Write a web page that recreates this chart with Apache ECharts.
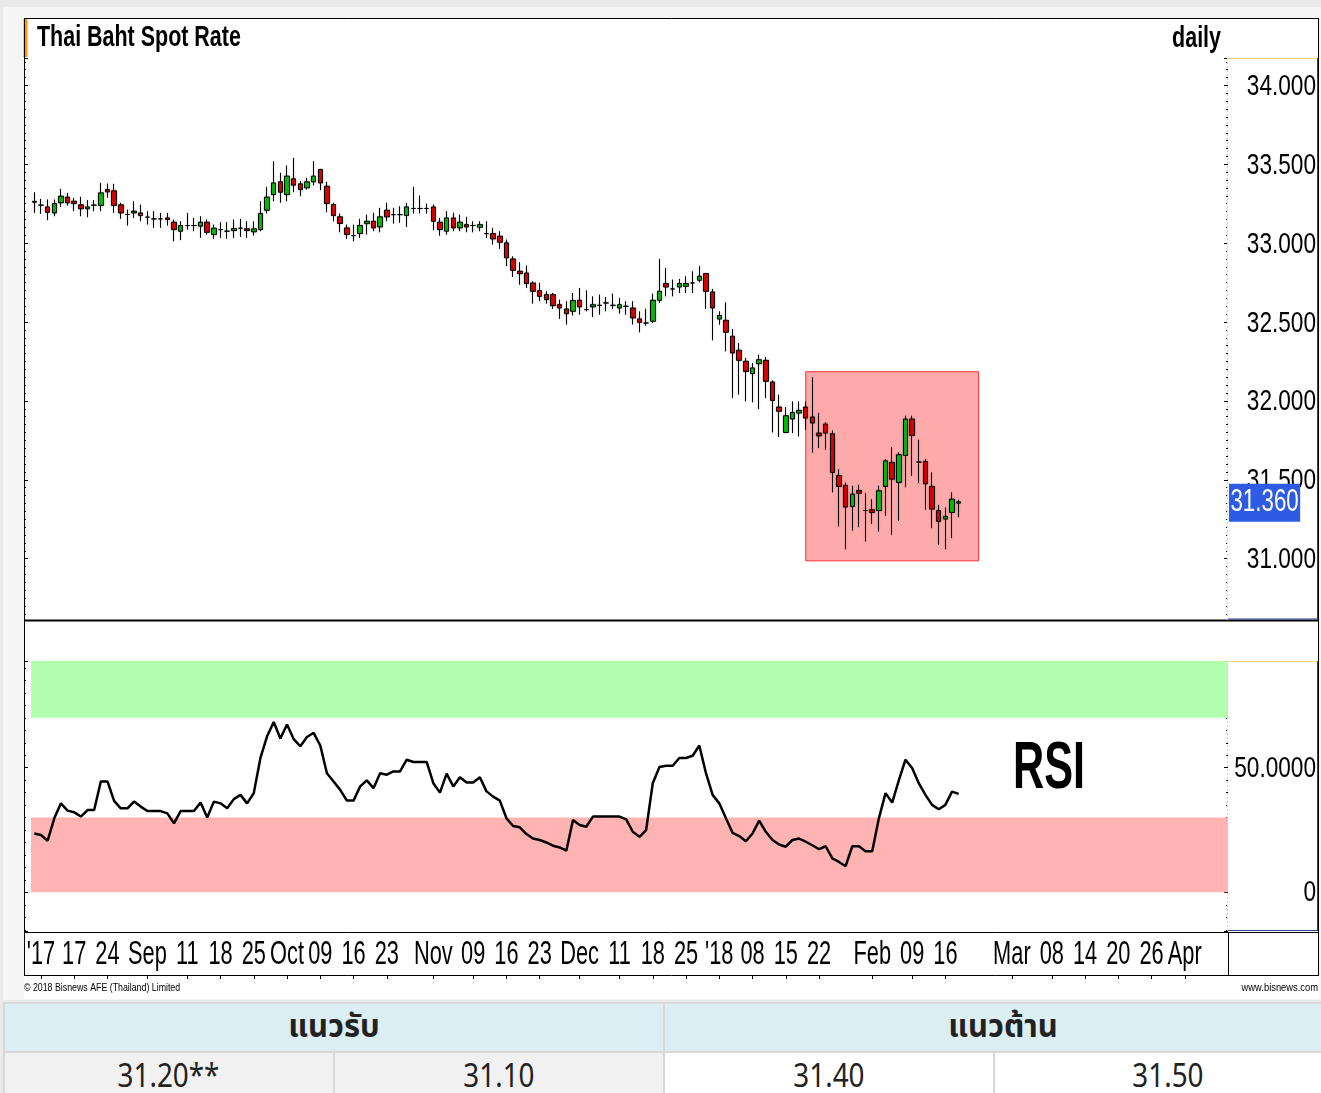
<!DOCTYPE html>
<html><head><meta charset="utf-8">
<script src="https://cdn.jsdelivr.net/npm/echarts@6/dist/echarts.min.js"></script>
<style>
html,body{margin:0;padding:0;width:1321px;height:1093px;overflow:hidden;background:#e9e9e9;}
#panel{position:absolute;left:3px;top:7px;width:1318px;height:993px;background:#f5f5f5;}
#white{position:absolute;left:24px;top:18px;width:1295px;height:981px;background:#fff;}
#chart{position:absolute;left:0;top:0;width:1321px;height:1000px;}
#tbl{position:absolute;left:3px;top:1002px;width:1338px;border-collapse:collapse;table-layout:fixed;font-family:'Noto Sans Thai','Noto Sans Thai UI','Loma','Garuda','Tlwg Typist','Noto Sans',sans-serif;color:#222;}
#tbl td{border:2px solid #d8d8d8;text-align:center;padding:0;overflow:hidden;white-space:nowrap;}
#tbl tr.h td{background:#daeef3;height:45px;font-weight:bold;font-size:31px;}
#tbl tr.r td{height:42px;font-size:32px;}
#tbl tr.r td.g{background:#f1f1f1;}
#tbl tr.r td.w{background:#fff;}
.sq{display:inline-block;transform:scaleX(0.87);}
</style></head>
<body>
<div id="panel"></div><div id="white"></div>
<div id="chart"></div>
<table id="tbl"><colgroup><col style="width:330px"><col style="width:330px"><col style="width:330px"><col style="width:348px"></colgroup><tbody id="tb"></tbody></table>
<script>
const SANS = "'Liberation Sans',Arial,sans-serif";

// ---- data ----
const slotCount = 180;
const categories = Array.from({length: slotCount}, (_, i) => 'd' + i);
const labelSlots = [1, 6, 11, 17, 23, 28, 33, 38, 43, 48, 53, 60, 66, 71, 76, 82, 88, 93, 98, 103, 108, 113, 118, 126, 132, 137, 147, 153, 158, 163, 168, 173];
const labelTexts = ["'17","17","24","Sep","11","18","25","Oct","09","16","23","Nov","09","16","23","Dec","11","18","25","'18","08","15","22","Feb","09","16","Mar","08","14","20","26","Apr"];
const priceTicks = [31.0, 31.5, 32.0, 32.5, 33.0, 33.5, 34.0];
const rsiTicks = [0, 50];
const rsiTickTexts = ['0', '50.0000'];

const opens = [33.265,33.241,33.230,33.192,33.256,33.292,33.266,33.243,33.218,33.241,
33.239,33.340,33.332,33.243,33.182,33.192,33.192,33.165,33.154,33.154,
33.160,33.133,33.076,33.112,33.112,33.108,33.133,33.055,33.086,33.076,
33.080,33.095,33.091,33.072,33.086,33.209,33.308,33.389,33.308,33.408,
33.376,33.351,33.389,33.467,33.361,33.245,33.167,33.097,33.048,33.061,
33.124,33.139,33.103,33.209,33.181,33.181,33.175,33.220,33.220,33.220,
33.230,33.133,33.076,33.160,33.097,33.118,33.112,33.101,33.061,33.061,
33.044,33.002,32.900,32.822,32.811,32.748,32.699,32.674,32.674,32.610,
32.583,32.568,32.638,32.579,32.596,32.606,32.621,32.606,32.589,32.600,
32.589,32.520,32.494,32.505,32.638,32.744,32.710,32.722,32.727,32.748,
32.765,32.807,32.691,32.519,32.511,32.410,32.321,32.251,32.173,32.236,
32.257,32.120,31.961,31.800,31.885,31.923,31.961,31.898,31.796,31.853,
31.792,31.527,31.464,31.331,31.432,31.305,31.310,31.305,31.458,31.610,
31.483,31.654,31.885,31.612,31.616,31.458,31.305,31.251,31.293,31.352];
const closes = [33.260,33.241,33.196,33.251,33.298,33.256,33.251,33.218,33.230,33.241,
33.319,33.325,33.239,33.192,33.182,33.203,33.175,33.165,33.154,33.154,
33.150,33.086,33.112,33.112,33.112,33.133,33.069,33.095,33.086,33.076,
33.093,33.095,33.080,33.091,33.188,33.292,33.382,33.323,33.425,33.368,
33.340,33.389,33.425,33.382,33.251,33.175,33.125,33.055,33.048,33.112,
33.139,33.097,33.167,33.167,33.181,33.181,33.230,33.220,33.220,33.220,
33.139,33.086,33.160,33.097,33.133,33.103,33.112,33.118,33.061,33.027,
33.006,32.907,32.828,32.807,32.744,32.695,32.663,32.642,32.604,32.589,
32.553,32.636,32.596,32.579,32.610,32.606,32.621,32.606,32.610,32.600,
32.526,32.498,32.494,32.638,32.695,32.722,32.710,32.744,32.744,32.748,
32.790,32.695,32.589,32.541,32.435,32.304,32.257,32.187,32.209,32.261,
32.124,32.003,31.934,31.906,31.927,31.940,31.891,31.860,31.779,31.796,
31.546,31.458,31.327,31.409,31.415,31.305,31.293,31.430,31.620,31.504,
31.659,31.885,31.781,31.612,31.475,31.314,31.236,31.267,31.377,31.360];
const lows = [33.192,33.186,33.146,33.171,33.230,33.239,33.203,33.171,33.165,33.203,
33.203,33.287,33.192,33.154,33.112,33.160,33.139,33.118,33.097,33.097,
33.112,33.012,33.019,33.086,33.076,33.034,33.055,33.027,33.034,33.027,
33.034,33.040,33.034,33.048,33.076,33.188,33.266,33.256,33.266,33.323,
33.298,33.340,33.366,33.336,33.196,33.139,33.069,33.027,33.012,33.033,
33.055,33.076,33.069,33.139,33.124,33.129,33.103,33.188,33.188,33.188,
33.082,33.048,33.055,33.076,33.076,33.069,33.069,33.076,33.033,32.991,
32.964,32.854,32.786,32.737,32.716,32.617,32.632,32.617,32.583,32.520,
32.484,32.541,32.547,32.568,32.532,32.547,32.568,32.583,32.553,32.547,
32.484,32.435,32.477,32.494,32.621,32.663,32.663,32.684,32.684,32.684,
32.752,32.583,32.384,32.483,32.314,32.018,32.039,31.997,31.991,31.948,
32.018,31.800,31.771,31.800,31.796,31.775,31.817,31.673,31.701,31.690,
31.420,31.204,31.060,31.178,31.200,31.109,31.221,31.172,31.272,31.151,
31.240,31.453,31.525,31.479,31.310,31.193,31.088,31.060,31.130,31.263];
const highs = [33.323,33.281,33.277,33.277,33.344,33.319,33.287,33.294,33.273,33.273,
33.382,33.378,33.376,33.256,33.213,33.266,33.245,33.203,33.203,33.192,
33.192,33.150,33.139,33.192,33.160,33.171,33.150,33.118,33.133,33.133,
33.150,33.154,33.139,33.139,33.266,33.357,33.520,33.446,33.492,33.541,
33.393,33.414,33.520,33.471,33.389,33.256,33.188,33.118,33.118,33.154,
33.181,33.192,33.224,33.256,33.224,33.234,33.256,33.357,33.302,33.251,
33.245,33.160,33.203,33.192,33.181,33.167,33.139,33.139,33.139,33.097,
33.076,33.023,32.917,32.879,32.858,32.758,32.748,32.695,32.684,32.642,
32.632,32.684,32.716,32.701,32.663,32.674,32.659,32.680,32.653,32.632,
32.632,32.568,32.583,32.680,32.900,32.843,32.769,32.773,32.790,32.822,
32.854,32.811,32.710,32.568,32.625,32.456,32.367,32.272,32.240,32.293,
32.278,32.130,32.039,31.961,31.997,31.997,31.997,32.151,31.923,31.864,
31.813,31.568,31.483,31.462,31.468,31.415,31.377,31.462,31.631,31.707,
31.673,31.906,31.906,31.754,31.631,31.547,31.341,31.324,31.420,31.373];
const rsi = [23.6,23.0,20.7,29.7,35.7,32.8,32.1,30.4,33.0,33.0,
44.5,44.5,36.7,33.7,33.7,36.4,34.4,32.6,32.6,32.6,
31.7,27.7,32.6,32.6,32.6,36.0,30.0,36.4,35.7,33.7,
37.4,39.1,35.7,39.8,53.9,62.6,68.3,61.7,67.3,61.5,
58.6,62.3,64.0,58.9,47.8,44.5,41.1,36.8,36.8,42.5,
44.9,41.8,47.8,47.2,48.5,48.5,53.2,52.3,52.3,52.3,
43.8,40.0,47.6,42.5,46.2,44.1,44.1,46.2,40.5,38.4,
36.8,29.7,26.6,26.1,23.4,21.6,21.0,20.0,18.7,18.0,
16.7,29.0,27.0,26.3,30.4,30.4,30.4,30.4,30.4,29.3,
24.3,22.3,25.0,43.8,50.3,50.8,50.8,53.9,53.9,54.8,
58.9,47.8,39.1,35.7,29.7,23.9,22.6,20.5,23.6,28.8,
24.3,21.0,19.2,18.3,21.0,21.6,20.3,18.9,17.3,18.5,
13.6,12.2,10.5,18.5,18.5,16.5,16.5,29.7,39.8,36.0,
44.9,53.2,49.9,43.8,39.1,35.1,33.3,35.1,40.4,39.5];

const priceRange = [30.611, 34.174];
const rsiRange = [-15.5, 92.8];
const oversoldBand = [0, 30];
const overboughtBand = [70, 92.8];
const highlightBox = {from: 116, to: 142, low: 30.986, high: 32.185};
const supportLevels = ['31.20**', '31.10'];
const resistanceLevels = ['31.40', '31.50'];
const supportTitle = 'แนวรับ';
const resistanceTitle = 'แนวต้าน';

// ---- build ----
const tickLabels = categories.map(() => '');
labelSlots.forEach((s, i) => { tickLabels[s] = labelTexts[i]; });
const candleData = opens.map((o, i) => [o, closes[i], lows[i], highs[i]]);
const lastClose = closes[closes.length - 1];

function L(x1, y1, x2, y2, color, w, dash) {
  return {type: 'line', silent: true, z: 100, shape: {x1, y1, x2, y2},
    style: {stroke: color, lineWidth: w || 1, lineDash: dash || null}};
}
function T(text, x, y, font, align, sx, extra) {
  return {type: 'text', silent: true, z: 100, x, y, scaleX: sx,
    style: Object.assign({text, font, fill: '#000', align: align, verticalAlign: 'middle'}, extra || {})};
}
const YEL = '#f3d36b', BLU = '#2a3f9a';
const tickStyle = {show: true, inside: true, length: 4, lineStyle: {color: '#000'}};
const minorStyle = {show: true, splitNumber: 10, length: 2, lineStyle: {color: '#000'}};

const chart = echarts.init(document.getElementById('chart'), null, {renderer: 'canvas'});
chart.setOption({
  animation: false,
  grid: [
    {left: 31, width: 1197, top: 58, height: 562},
    {left: 31, width: 1197, top: 661, height: 270},
    {left: 31, width: 1197, top: 934, height: 41}
  ],
  xAxis: [
    {type: 'category', gridIndex: 0, data: categories, show: false},
    {type: 'category', gridIndex: 1, data: categories, show: false},
    {type: 'category', gridIndex: 2, data: categories, position: 'top',
      axisLine: {show: false}, axisLabel: {show: false},
      axisTick: {show: true, inside: true, length: 4, alignWithLabel: true,
        interval: (i) => tickLabels[i] !== '', lineStyle: {color: '#000'}}}
  ],
  yAxis: [
    {type: 'value', gridIndex: 0, position: 'right', min: priceRange[0], max: priceRange[1], splitNumber: 7,
      axisLine: {show: false}, splitLine: {show: false}, axisLabel: {show: false},
      axisTick: tickStyle, minorTick: minorStyle},
    {type: 'value', gridIndex: 0, position: 'left', offset: 7, min: priceRange[0], max: priceRange[1], splitNumber: 7,
      axisLine: {show: false}, splitLine: {show: false}, axisLabel: {show: false},
      axisTick: tickStyle, minorTick: minorStyle},
    {type: 'value', gridIndex: 1, position: 'right', min: rsiRange[0], max: rsiRange[1], splitNumber: 2,
      axisLine: {show: false}, splitLine: {show: false}, axisLabel: {show: false},
      axisTick: tickStyle, minorTick: minorStyle},
    {type: 'value', gridIndex: 1, position: 'left', offset: 7, min: rsiRange[0], max: rsiRange[1], splitNumber: 2,
      axisLine: {show: false}, splitLine: {show: false}, axisLabel: {show: false},
      axisTick: tickStyle, minorTick: minorStyle},
    {type: 'value', gridIndex: 2, show: false}
  ],
  series: [
    {type: 'candlestick', xAxisIndex: 0, yAxisIndex: 0, data: candleData, barWidth: 5,
      itemStyle: {color: '#00c000', color0: '#e00000', borderColor: '#000', borderColor0: '#000',
        borderColorDoji: '#000', borderWidth: 1, shadowBlur: 2, shadowColor: 'rgba(0,0,0,0.3)'},
      markArea: {silent: true,
        itemStyle: {color: '#ffaaaa', borderColor: '#ff3030', borderWidth: 1},
        data: [[{xAxis: categories[highlightBox.from], yAxis: highlightBox.high},
                {xAxis: categories[highlightBox.to], yAxis: highlightBox.low}]]}
    },
    {type: 'line', xAxisIndex: 1, yAxisIndex: 2, data: rsi, symbol: 'none', z: 3,
      lineStyle: {color: '#000', width: 2.5},
      markArea: {silent: true, data: [
        [{yAxis: overboughtBand[0], itemStyle: {color: '#b3ffb0'}}, {yAxis: overboughtBand[1]}],
        [{yAxis: oversoldBand[0], itemStyle: {color: '#ffb3b3'}}, {yAxis: oversoldBand[1]}]
      ]}
    }
  ]
});

// ---- texts and frame, placed through the chart's own scales where tied to data ----
const g = [
  {type: 'rect', z: 100, silent: true, shape: {x: 23.5, y: 19, width: 4, height: 38}, style: {fill: '#ff9900'}},
  T('Thai Baht Spot Rate', 37, 38, 'bold 29px ' + SANS, 'left', 0.74),
  T('daily', 1221, 39, 'bold 29px ' + SANS, 'right', 0.74),
  T('RSI', 1013, 770, 'bold 67px ' + SANS, 'left', 0.645),
  T('© 2018 Bisnews AFE (Thailand) Limited', 24, 988, '11px ' + SANS, 'left', 0.8),
  T('www.bisnews.com', 1318, 988, '11px ' + SANS, 'right', 0.85),
  L(24, 18.5, 1319, 18.5, '#000', 1),
  L(24.5, 18, 24.5, 976, '#000', 1),
  L(1318.5, 18, 1318.5, 976, '#000', 1),
  L(24, 620.5, 1319, 620.5, '#000', 2),
  L(24, 932.5, 1319, 932.5, '#000', 1),
  L(24, 975.5, 1319, 975.5, '#000', 1),
  L(1228.5, 932, 1228.5, 976, '#000', 1),
  L(1228, 58.5, 1318, 58.5, YEL, 1),
  L(1227.5, 58, 1227.5, 620, YEL, 1, [2, 2]),
  L(1317.5, 58, 1317.5, 620, BLU, 1),
  L(1228, 619, 1318, 619, BLU, 1),
  L(1228, 661.5, 1318, 661.5, YEL, 1),
  L(1227.5, 661, 1227.5, 931, YEL, 1, [2, 2]),
  L(1317.5, 661, 1317.5, 931, BLU, 1),
  L(1228, 930.5, 1318, 930.5, BLU, 1)
];
labelSlots.forEach((s, i) => {
  const x = chart.convertToPixel({xAxisIndex: 2}, categories[s]);
  g.push(T(labelTexts[i], x, 955, '33px ' + SANS, 'center', 0.66));
});
priceTicks.forEach((v) => {
  const y = chart.convertToPixel({yAxisIndex: 0}, v);
  g.push(T(v.toFixed(3), 1316, y + 1.5, '29px ' + SANS, 'right', 0.78));
});
rsiTicks.forEach((v, i) => {
  const y = chart.convertToPixel({yAxisIndex: 2}, v);
  g.push(T(rsiTickTexts[i], 1316, y + 1, '29px ' + SANS, 'right', 0.78));
});
const yLast = chart.convertToPixel({yAxisIndex: 0}, lastClose);
const lastTag = T(lastClose.toFixed(3), 1229, yLast + 1, '31px ' + SANS, 'left', 0.72,
  {fill: '#fff', backgroundColor: '#2d5be3', padding: [4, 2, 3, 2]});
lastTag.z = 101;
g.push(lastTag);
chart.setOption({graphic: g});

// ---- table ----
const tb = document.getElementById('tb');
tb.innerHTML =
  '<tr class="h"><td colspan="2">' + supportTitle + '</td><td colspan="2">' + resistanceTitle + '</td></tr>' +
  '<tr class="r">' +
  supportLevels.map(v => '<td class="g"><span class="sq">' + v + '</span></td>').join('') +
  resistanceLevels.map(v => '<td class="w"><span class="sq">' + v + '</span></td>').join('') +
  '</tr>';
</script>
</body></html>
